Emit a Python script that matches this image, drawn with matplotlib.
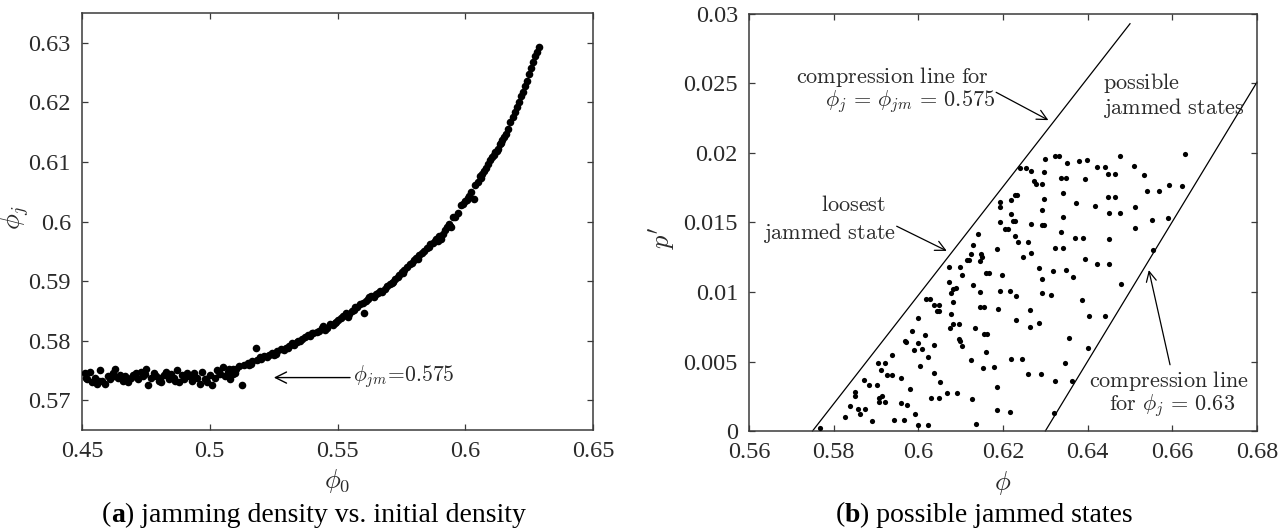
import matplotlib
matplotlib.use("Agg")
import matplotlib.pyplot as plt
from matplotlib.ticker import FuncFormatter
from matplotlib.offsetbox import TextArea, HPacker, AnnotationBbox

plt.rcParams['font.family'] = ['Liberation Serif', 'DejaVu Serif']
plt.rcParams['mathtext.fontset'] = 'cm'

# ---------------- data: panel (a) ----------------
phi0_a = [0.451, 0.452, 0.453, 0.454, 0.455, 0.456, 0.457, 0.458, 0.459, 0.460,
          0.461, 0.462, 0.463, 0.464, 0.465, 0.466, 0.467, 0.468, 0.469, 0.470,
          0.471, 0.472, 0.473, 0.474, 0.475, 0.476, 0.477, 0.478, 0.479, 0.480,
          0.481, 0.482, 0.483, 0.484, 0.485, 0.486, 0.487, 0.488, 0.489, 0.490,
          0.491, 0.492, 0.493, 0.494, 0.495, 0.496, 0.497, 0.498, 0.499, 0.500,
          0.501, 0.502, 0.503, 0.504, 0.505, 0.506, 0.507, 0.508, 0.509, 0.510,
          0.4515, 0.4565, 0.4625, 0.4685, 0.4745, 0.4805, 0.4865, 0.4925, 0.4985, 0.5035,
          0.5075, 0.5090, 0.5103, 0.5115, 0.5127, 0.5135, 0.5148, 0.5160, 0.5167, 0.5180,
          0.5185, 0.5200, 0.5212, 0.5225, 0.5232, 0.5245, 0.5258, 0.5264, 0.5278, 0.5290,
          0.5297, 0.5310, 0.5320, 0.5329, 0.5340, 0.5352, 0.5361, 0.5372, 0.5385, 0.5394,
          0.5405, 0.5418, 0.5426, 0.5438, 0.5450, 0.5458, 0.5470, 0.5482, 0.5491, 0.5502,
          0.5515, 0.5523, 0.5535, 0.5545, 0.5555, 0.5565, 0.5578, 0.5588, 0.5598, 0.5603,
          0.5610, 0.5620, 0.5632, 0.5642, 0.5652, 0.5665, 0.5675, 0.5685, 0.5695, 0.5705,
          0.5717, 0.5725, 0.5735, 0.5741, 0.5752, 0.5762, 0.5773, 0.5782, 0.5790, 0.5798,
          0.5808, 0.5820, 0.5830, 0.5840, 0.5850, 0.5862, 0.5872, 0.5880, 0.5887, 0.5898,
          0.5905, 0.5911, 0.5920, 0.5928, 0.5935, 0.5942, 0.5946, 0.5951, 0.5960, 0.5970,
          0.5983, 0.5992, 0.6000, 0.6008, 0.6016, 0.6024, 0.6035, 0.6040, 0.6048, 0.6056,
          0.6065, 0.6072, 0.6080, 0.6088, 0.6097, 0.6105, 0.6112, 0.6118, 0.6124, 0.6129,
          0.6137, 0.6145, 0.6153, 0.6161, 0.6169, 0.6177, 0.6185, 0.6194, 0.6202, 0.6210,
          0.6218, 0.6226, 0.6234, 0.6242, 0.6250, 0.6258, 0.6266, 0.6274, 0.6282, 0.6290,
          0.5155, 0.5195, 0.5250, 0.5305, 0.5345, 0.5400, 0.5445, 0.5495, 0.5540, 0.5570,
          0.5625, 0.5660, 0.5712, 0.5757, 0.5815, 0.5857, 0.5893, 0.6012, 0.6060, 0.6140]
phij_a = [0.5745, 0.5735, 0.5748, 0.5730, 0.5738, 0.5728, 0.5750, 0.5733, 0.5728, 0.5740,
          0.5735, 0.5745, 0.5752, 0.5738, 0.5742, 0.5733, 0.5740, 0.5730, 0.5738, 0.5742,
          0.5745, 0.5735, 0.5748, 0.5740, 0.5752, 0.5726, 0.5738, 0.5745, 0.5740, 0.5733,
          0.5730, 0.5742, 0.5748, 0.5736, 0.5744, 0.5738, 0.5750, 0.5730, 0.5742, 0.5735,
          0.5745, 0.5740, 0.5733, 0.5746, 0.5738, 0.5728, 0.5748, 0.5735, 0.5730, 0.5742,
          0.5726, 0.5738, 0.5750, 0.5744, 0.5756, 0.5740, 0.5748, 0.5736, 0.5752, 0.5745,
          0.5738, 0.5733, 0.5740, 0.5735, 0.5744, 0.5738, 0.5732, 0.5741, 0.5736, 0.5747,
          0.5752, 0.5744, 0.5753, 0.5758, 0.5726, 0.5759, 0.5763, 0.5760, 0.5765, 0.5787,
          0.5768, 0.5770, 0.5774, 0.5772, 0.5776, 0.5780, 0.5778, 0.5782, 0.5786, 0.5784,
          0.5787, 0.5791, 0.5796, 0.5793, 0.5798, 0.5800, 0.5802, 0.5806, 0.5810, 0.5807,
          0.5812, 0.5815, 0.5816, 0.5821, 0.5818, 0.5822, 0.5828, 0.5826, 0.5830, 0.5835,
          0.5838, 0.5842, 0.5846, 0.5844, 0.5850, 0.5852, 0.5856, 0.5862, 0.5864, 0.5847,
          0.5866, 0.5870, 0.5875, 0.5873, 0.5879, 0.5884, 0.5882, 0.5887, 0.5892, 0.5895,
          0.5899, 0.5904, 0.5907, 0.5910, 0.5915, 0.5918, 0.5924, 0.5928, 0.5931, 0.5936,
          0.5938, 0.5943, 0.5947, 0.5950, 0.5956, 0.5962, 0.5964, 0.5968, 0.5970, 0.5975,
          0.5971, 0.5979, 0.5985, 0.5990, 0.5996, 0.5993, 0.5990, 0.6007, 0.6008, 0.6015,
          0.6027, 0.6030, 0.6034, 0.6036, 0.6043, 0.6050, 0.6038, 0.6061, 0.6066, 0.6076,
          0.6080, 0.6085, 0.6090, 0.6097, 0.6104, 0.6108, 0.6112, 0.6116, 0.6119, 0.6121,
          0.6130, 0.6136, 0.6142, 0.6147, 0.6156, 0.6167, 0.6175, 0.6184, 0.6192, 0.6201,
          0.6210, 0.6218, 0.6227, 0.6236, 0.6247, 0.6258, 0.6268, 0.6278, 0.6285, 0.6293,
          0.5759, 0.5772, 0.5776, 0.5788, 0.5800, 0.5812, 0.5824, 0.5831, 0.5840, 0.5856,
          0.5874, 0.5880, 0.5896, 0.5914, 0.5937, 0.5958, 0.5968, 0.6040, 0.6073, 0.6131]

# ---------------- data: panel (b) ----------------
phi_b = [0.6630, 0.6476, 0.6322, 0.6332, 0.6300, 0.6380, 0.6399, 0.6351, 0.6510, 0.6423,
         0.6441, 0.6241, 0.6255, 0.6267, 0.6297, 0.6447, 0.6464, 0.6534, 0.6336, 0.6349,
         0.6393, 0.6274, 0.6279, 0.6291, 0.6541, 0.6568, 0.6592, 0.6623, 0.6342, 0.6229,
         0.6234, 0.6218, 0.6193, 0.6297, 0.6447, 0.6464, 0.6372, 0.6417, 0.6511, 0.6193,
         0.6291, 0.6450, 0.6476, 0.6218, 0.6193, 0.6223, 0.6229, 0.6291, 0.6297, 0.6342,
         0.6553, 0.6589, 0.6511, 0.6205, 0.6211, 0.6265, 0.6140, 0.6337, 0.6229, 0.6370,
         0.6389, 0.6236, 0.6260, 0.6450, 0.6130, 0.6322, 0.6342, 0.6265, 0.6555, 0.6185,
         0.6125, 0.6147, 0.6150, 0.6248, 0.6115, 0.6120, 0.6145, 0.6393, 0.6421, 0.6450,
         0.6073, 0.6099, 0.6284, 0.6349, 0.6159, 0.6168, 0.6319, 0.6198, 0.6104, 0.6366,
         0.6293, 0.6073, 0.6130, 0.6479, 0.6089, 0.6083, 0.6193, 0.6217, 0.6076, 0.6145,
         0.6293, 0.6313, 0.6231, 0.6017, 0.6028, 0.6083, 0.6387, 0.6036, 0.6050, 0.6145,
         0.6154, 0.6188, 0.6043, 0.6050, 0.6263, 0.6076, 0.6403, 0.6440, 0.6000, 0.6231,
         0.6286, 0.6083, 0.6095, 0.6263, 0.6075, 0.6135, 0.5986, 0.6154, 0.6162, 0.6015,
         0.6356, 0.6095, 0.6098, 0.5969, 0.5972, 0.6000, 0.6037, 0.6104, 0.6401, 0.6008,
         0.5990, 0.6160, 0.5938, 0.6022, 0.6218, 0.6245, 0.6124, 0.6347, 0.5905, 0.5922,
         0.6005, 0.6178, 0.6152, 0.5912, 0.6037, 0.6258, 0.6289, 0.5927, 0.5938, 0.5960,
         0.5872, 0.6322, 0.6362, 0.5902, 0.5883, 0.6052, 0.6186, 0.5980, 0.5850, 0.5850,
         0.5908, 0.5914, 0.6031, 0.6050, 0.6068, 0.6092, 0.5908, 0.5922, 0.5960, 0.5974,
         0.6126, 0.5839, 0.5873, 0.5858, 0.6185, 0.6217, 0.5863, 0.5991, 0.6320, 0.5826,
         0.5890, 0.5943, 0.5967, 0.6137, 0.6000, 0.6022, 0.5768]
p_b = [0.0199, 0.0198, 0.0198, 0.0198, 0.0196, 0.0194, 0.0195, 0.0193, 0.0191, 0.0190,
       0.0190, 0.0189, 0.0189, 0.0187, 0.0186, 0.0185, 0.0185, 0.0184, 0.0182, 0.0182,
       0.0181, 0.0180, 0.0178, 0.0178, 0.0173, 0.0173, 0.0177, 0.0176, 0.0171, 0.0170,
       0.0170, 0.0166, 0.0165, 0.0167, 0.0168, 0.0168, 0.0164, 0.0162, 0.0161, 0.0161,
       0.0159, 0.0157, 0.0157, 0.0156, 0.0150, 0.0151, 0.0151, 0.0148, 0.0148, 0.0154,
       0.0152, 0.0153, 0.0146, 0.0145, 0.0145, 0.0149, 0.0142, 0.0143, 0.0140, 0.0139,
       0.0139, 0.0136, 0.0136, 0.0138, 0.0134, 0.0132, 0.0132, 0.0128, 0.0130, 0.0131,
       0.0127, 0.0127, 0.0125, 0.0125, 0.0123, 0.0123, 0.0122, 0.0124, 0.0120, 0.0120,
       0.0118, 0.0118, 0.0117, 0.0116, 0.0114, 0.0114, 0.0115, 0.0112, 0.0112, 0.0111,
       0.0109, 0.0107, 0.0105, 0.0106, 0.0103, 0.0102, 0.0101, 0.0101, 0.0099, 0.0100,
       0.0099, 0.0098, 0.0097, 0.0095, 0.0095, 0.0093, 0.0094, 0.0091, 0.0091, 0.0089,
       0.0089, 0.0088, 0.0086, 0.0086, 0.0087, 0.0084, 0.0083, 0.0083, 0.0081, 0.0080,
       0.0078, 0.0077, 0.0077, 0.0075, 0.0074, 0.0074, 0.0072, 0.0070, 0.0070, 0.0069,
       0.0067, 0.0066, 0.0065, 0.0065, 0.0064, 0.0063, 0.0062, 0.0061, 0.0060, 0.0059,
       0.0058, 0.0057, 0.0055, 0.0053, 0.0052, 0.0052, 0.0051, 0.0049, 0.0049, 0.0049,
       0.0047, 0.0046, 0.0045, 0.0044, 0.0042, 0.0041, 0.0041, 0.0040, 0.0040, 0.0038,
       0.0037, 0.0036, 0.0036, 0.0033, 0.0033, 0.0035, 0.0032, 0.0030, 0.0028, 0.0025,
       0.0024, 0.0025, 0.0024, 0.0024, 0.0027, 0.0027, 0.0021, 0.0021, 0.0020, 0.0019,
       0.0023, 0.0018, 0.0016, 0.0016, 0.0015, 0.0014, 0.0012, 0.0012, 0.0013, 0.0010,
       0.0007, 0.0008, 0.0008, 0.0005, 0.0004, 0.0004, 0.0002]

# compression lines (endpoints)
line_jm_phi = [0.575, 0.650]
line_jm_p = [0.0, 0.0293]
line_j63_phi = [0.630, 0.680]
line_j63_p = [0.0, 0.0251]

xticks_a = [0.45, 0.5, 0.55, 0.6, 0.65]
yticks_a = [0.57, 0.58, 0.59, 0.6, 0.61, 0.62, 0.63]
xticks_b = [0.56, 0.58, 0.6, 0.62, 0.64, 0.66, 0.68]
yticks_b = [0, 0.005, 0.01, 0.015, 0.02, 0.025, 0.03]

# ---------------- figure ----------------
W, H = 1288, 531
fig = plt.figure(figsize=(W / 100, H / 100), dpi=100)
axc = '#3a3a3a'
tc = '#2a2a2a'

def px_axes(l, r, t, b):
    return fig.add_axes([l / W, 1 - b / H, (r - l) / W, (b - t) / H])

ax1 = px_axes(82, 593, 13, 430)
ax2 = px_axes(749, 1257, 14, 431)

fmt = FuncFormatter(lambda v, p: ('%g' % round(v, 4)))
for ax in (ax1, ax2):
    for s in ax.spines.values():
        s.set_color(axc)
        s.set_linewidth(1.1)
    ax.tick_params(direction='in', length=4, width=0.9, color=axc,
                   top=True, right=True, labelsize=17.5, labelcolor=tc, pad=8)
    ax.xaxis.set_major_formatter(fmt)
    ax.yaxis.set_major_formatter(fmt)

# panel (a)
ax1.scatter(phi0_a, phij_a, s=30, color='black', linewidths=0, zorder=3)
ax1.set_xlim(0.45, 0.65)
ax1.set_ylim(0.565, 0.635)
ax1.set_xticks(xticks_a)
ax1.set_yticks(yticks_a)
ax1.set_xlabel(r'$\phi_0$', fontsize=19, color=tc, labelpad=4)
ax1.set_ylabel(r'$\phi_j$', fontsize=19, color=tc, va='center')
ax1.yaxis.set_label_coords(-0.131, 0.51)
ax1.annotate('', xy=(0.5240, 0.5738), xytext=(0.5560, 0.5738),
             arrowprops=dict(arrowstyle='->', color='black', lw=1.0,
                             mutation_scale=20))
ax1.text(0.5560, 0.5740, r'$\phi_{jm}\!=\!0.575$', fontsize=15.5, color=tc,
         ha='left', va='center')

# panel (b)
ax2.plot(line_jm_phi, line_jm_p, color='black', lw=0.9, clip_on=False)
ax2.plot(line_j63_phi, line_j63_p, color='black', lw=0.9, clip_on=False)
ax2.scatter(phi_b, p_b, s=14, color='black', linewidths=0, zorder=3)
ax2.set_xlim(0.56, 0.68)
ax2.set_ylim(0, 0.03)
ax2.set_xticks(xticks_b)
ax2.set_yticks(yticks_b)
ax2.set_xlabel(r'$\phi$', fontsize=19, color=tc, labelpad=4)
ax2.set_ylabel(r"$p'$", fontsize=19, color=tc, va='center')
ax2.yaxis.set_label_coords(-0.171, 0.465)

afs = 16
arr = dict(arrowstyle='->', color='black', lw=0.9, mutation_scale=18)
ax2.text(0.5938, 0.02549, r'$\mathrm{compression\ line\ for}$', fontsize=afs,
         color=tc, ha='center', va='center')
ax2.text(0.5981, 0.02373, r'$\phi_j\,=\,\phi_{jm}\,=\,0.575$', fontsize=afs,
         color=tc, ha='center', va='center')
ax2.annotate('', xy=(0.6313, 0.02227), xytext=(0.6178, 0.02446), arrowprops=arr)
ax2.text(0.6436, 0.02507, r'$\mathrm{possible}$', fontsize=afs, color=tc,
         ha='left', va='center')
ax2.text(0.6436, 0.02324, r'$\mathrm{jammed\ states}$', fontsize=afs, color=tc,
         ha='left', va='center')
ax2.text(0.5847, 0.01616, r'$\mathrm{loosest}$', fontsize=afs, color=tc,
         ha='center', va='center')
ax2.text(0.5789, 0.01426, r'$\mathrm{jammed\ state}$', fontsize=afs, color=tc,
         ha='center', va='center')
ax2.annotate('', xy=(0.6073, 0.01287), xytext=(0.5943, 0.01482), arrowprops=arr)
ax2.text(0.6591, 0.00359, r'$\mathrm{compression\ line}$', fontsize=afs, color=tc,
         ha='center', va='center')
ax2.text(0.6599, 0.00181, r'$\mathrm{for}\ \phi_j\,=\,0.63$', fontsize=afs,
         color=tc, ha='center', va='center')
ax2.annotate('', xy=(0.6543, 0.01177), xytext=(0.6596, 0.00457), arrowprops=arr)

# captions
def caption(x, letter, rest):
    cfs = 20
    parts = [TextArea('(', textprops=dict(fontsize=cfs, color='black')),
             TextArea(letter, textprops=dict(fontsize=cfs, color='black', fontweight='bold')),
             TextArea(rest, textprops=dict(fontsize=cfs, color='black'))]
    box = HPacker(children=parts, align='baseline', pad=0, sep=0)
    ab = AnnotationBbox(box, (x / W, 1 - 515 / H), xycoords='figure fraction',
                        frameon=False, box_alignment=(0.5, 0.5))
    fig.add_artist(ab)

caption(314, 'a', ') jamming density vs. initial density')
caption(984, 'b', ') possible jammed states')

fig.savefig('out.png', dpi=100)
